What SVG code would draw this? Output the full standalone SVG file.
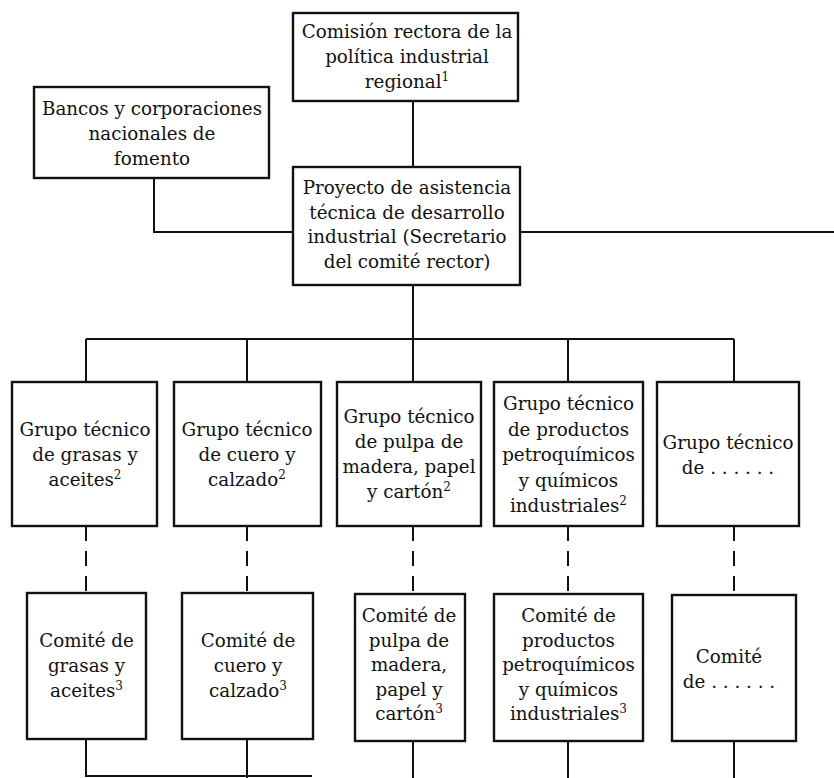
<svg xmlns="http://www.w3.org/2000/svg" width="834" height="778" viewBox="0 0 834 778">
<style>
.box{fill:#fff;stroke:#111;stroke-width:2.4}
.ln{fill:none;stroke:#111;stroke-width:2}
.dash{fill:none;stroke:#111;stroke-width:2;stroke-dasharray:15 10}
text{font-family:"DejaVu Serif","Liberation Serif",serif;font-size:18.3px;fill:#111;text-anchor:middle}
.sup{font-size:12px}
</style>
<rect width="834" height="778" fill="#fff"/>
<g id="connectors">
<path class="ln" d="M413 101V167"/>
<path class="ln" d="M154 178V232H293"/>
<path class="ln" d="M520 232H834"/>
<path class="ln" d="M413 285V382"/>
<path class="ln" d="M86 339H734"/>
<path class="ln" d="M86 339V382M247 339V382M568 339V382M734 339V382"/>
<path class="dash" d="M86 526V593M247 526V593M413 526V594M568 526V594M734 526V595"/>
<path class="ln" d="M86 739V776H312"/>
<path class="ln" d="M247 739V778M413 741V778M568 741V778M734 741V778"/>
</g>
<g id="comision">
<rect class="box" x="293" y="13" width="225" height="88"/>
<text x="407" y="38">Comisión rectora de la</text>
<text x="407" y="63">política industrial</text>
<text x="407" y="88">regional<tspan class="sup" dy="-7">1</tspan></text>
</g>
<g id="bancos">
<rect class="box" x="34" y="87" width="235" height="91"/>
<text x="152" y="115">Bancos y corporaciones</text>
<text x="152" y="140">nacionales de</text>
<text x="152" y="165">fomento</text>
</g>
<g id="proyecto">
<rect class="box" x="293" y="167" width="227" height="118"/>
<text x="407" y="194">Proyecto de asistencia</text>
<text x="407" y="219">técnica de desarrollo</text>
<text x="407" y="243">industrial (Secretario</text>
<text x="407" y="268">del comité rector)</text>
</g>
<g id="grupo1">
<rect class="box" x="12" y="382" width="145" height="144"/>
<text x="85" y="436">Grupo técnico</text>
<text x="85" y="461">de grasas y</text>
<text x="85" y="486">aceites<tspan class="sup" dy="-7">2</tspan></text>
</g>
<g id="grupo2">
<rect class="box" x="174" y="382" width="147" height="144"/>
<text x="247" y="436">Grupo técnico</text>
<text x="247" y="461">de cuero y</text>
<text x="247" y="486">calzado<tspan class="sup" dy="-7">2</tspan></text>
</g>
<g id="grupo3">
<rect class="box" x="337" y="382" width="144" height="144"/>
<text x="409" y="423">Grupo técnico</text>
<text x="409" y="448">de pulpa de</text>
<text x="409" y="473">madera, papel</text>
<text x="409" y="498">y cartón<tspan class="sup" dy="-7">2</tspan></text>
</g>
<g id="grupo4">
<rect class="box" x="494" y="382" width="149" height="144"/>
<text x="568.5" y="410">Grupo técnico</text>
<text x="568.5" y="435.5">de productos</text>
<text x="568.5" y="461">petroquímicos</text>
<text x="568.5" y="486.5">y químicos</text>
<text x="568.5" y="512">industriales<tspan class="sup" dy="-7">2</tspan></text>
</g>
<g id="grupo5">
<rect class="box" x="657" y="382" width="142" height="144"/>
<text x="728" y="448.5">Grupo técnico</text>
<text x="728" y="473.5">de . . . . . .</text>
</g>
<g id="comite1">
<rect class="box" x="27" y="593" width="119" height="146"/>
<text x="86.5" y="647">Comité de</text>
<text x="86.5" y="672">grasas y</text>
<text x="86.5" y="697">aceites<tspan class="sup" dy="-7">3</tspan></text>
</g>
<g id="comite2">
<rect class="box" x="182" y="593" width="131" height="146"/>
<text x="248" y="647">Comité de</text>
<text x="248" y="672">cuero y</text>
<text x="248" y="697">calzado<tspan class="sup" dy="-7">3</tspan></text>
</g>
<g id="comite3">
<rect class="box" x="355" y="594" width="110" height="147"/>
<text x="409" y="622">Comité de</text>
<text x="409" y="646.5">pulpa de</text>
<text x="409" y="671">madera,</text>
<text x="409" y="695.5">papel y</text>
<text x="409" y="720">cartón<tspan class="sup" dy="-7">3</tspan></text>
</g>
<g id="comite4">
<rect class="box" x="494" y="594" width="149" height="147"/>
<text x="568.5" y="622">Comité de</text>
<text x="568.5" y="646.5">productos</text>
<text x="568.5" y="671">petroquímicos</text>
<text x="568.5" y="695.5">y químicos</text>
<text x="568.5" y="720">industriales<tspan class="sup" dy="-7">3</tspan></text>
</g>
<g id="comite5">
<rect class="box" x="672" y="595" width="124" height="146"/>
<text x="729" y="663">Comité</text>
<text x="729" y="688">de . . . . . .</text>
</g>
</svg>
